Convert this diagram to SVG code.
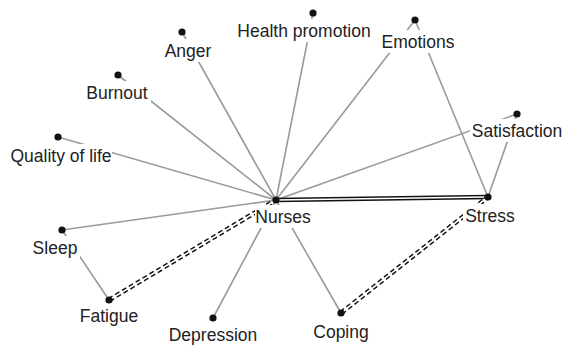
<svg xmlns="http://www.w3.org/2000/svg" width="579" height="346" viewBox="0 0 579 346">
<style>
.bg{fill:#fff}
.e{stroke:#9a9a9a;stroke-width:1.6;fill:none}
.dblo{stroke:#111;stroke-width:4.6;fill:none}
.dbli{stroke:#fff;stroke-width:1.6;fill:none}
.dsh{stroke:#111;stroke-width:4.6;fill:none;stroke-dasharray:5 3}
.lb{fill:#fff}
.t{font-family:"Liberation Sans",Arial,sans-serif;font-size:17.5px;fill:#222;text-anchor:middle}
.d{fill:#111}
</style>
<rect class="bg" x="0" y="0" width="579" height="346"/>
<g id="connectors">
<line class="e" x1="276" y1="200" x2="182" y2="32"/>
<line class="e" x1="276" y1="200" x2="313" y2="13"/>
<line class="e" x1="276" y1="200" x2="415" y2="20"/>
<line class="e" x1="415" y1="20" x2="488" y2="197"/>
<line class="e" x1="276" y1="200" x2="118" y2="75"/>
<line class="e" x1="276" y1="200" x2="58" y2="137"/>
<line class="e" x1="276" y1="200" x2="517" y2="114"/>
<line class="e" x1="517" y1="114" x2="488" y2="197"/>
<line class="e" x1="276" y1="200" x2="62" y2="230"/>
<line class="e" x1="62" y1="230" x2="109" y2="300"/>
<line class="e" x1="276" y1="200" x2="213" y2="318"/>
<line class="e" x1="276" y1="200" x2="341" y2="313"/>
<line class="dblo" x1="276" y1="200" x2="488" y2="197"/>
<line class="dbli" x1="276" y1="200" x2="486" y2="197"/>
<line class="dsh" x1="109" y1="300" x2="276" y2="200"/>
<line class="dbli" x1="109" y1="300" x2="276" y2="200"/>
<line class="dsh" x1="341" y1="313" x2="488" y2="197"/>
<line class="dbli" x1="341" y1="313" x2="488" y2="197"/>
</g>
<g id="nurses"><rect class="lb" x="255" y="205" width="57" height="23"/><text class="t" x="283" y="223">Nurses</text><circle class="d" cx="276" cy="200" r="3.6"/></g>
<g id="stress"><rect class="lb" x="463" y="204" width="55" height="23"/><text class="t" x="490" y="222">Stress</text><circle class="d" cx="488" cy="197" r="3.6"/></g>
<g id="anger"><rect class="lb" x="163" y="39" width="50" height="23"/><text class="t" x="188" y="57">Anger</text><circle class="d" cx="182" cy="32" r="3.6"/></g>
<g id="health-promotion"><rect class="lb" x="236" y="19" width="137" height="23"/><text class="t" x="304" y="37">Health promotion</text><circle class="d" cx="313" cy="13" r="3.6"/></g>
<g id="emotions"><rect class="lb" x="380" y="30" width="76" height="23"/><text class="t" x="418" y="48">Emotions</text><circle class="d" cx="415" cy="20" r="3.6"/></g>
<g id="burnout"><rect class="lb" x="84" y="81" width="67" height="23"/><text class="t" x="117" y="99">Burnout</text><circle class="d" cx="118" cy="75" r="3.6"/></g>
<g id="satisfaction"><rect class="lb" x="470" y="119" width="94" height="23"/><text class="t" x="517" y="137">Satisfaction</text><circle class="d" cx="517" cy="114" r="3.6"/></g>
<g id="quality-of-life"><rect class="lb" x="10" y="144" width="102" height="23"/><text class="t" x="61" y="162">Quality of life</text><circle class="d" cx="58" cy="137" r="3.6"/></g>
<g id="sleep"><rect class="lb" x="31" y="236" width="49" height="23"/><text class="t" x="55" y="254">Sleep</text><circle class="d" cx="62" cy="230" r="3.6"/></g>
<g id="fatigue"><rect class="lb" x="78" y="304" width="62" height="23"/><text class="t" x="109" y="322">Fatigue</text><circle class="d" cx="109" cy="300" r="3.6"/></g>
<g id="depression"><rect class="lb" x="167" y="323" width="92" height="23"/><text class="t" x="213" y="341">Depression</text><circle class="d" cx="213" cy="318" r="3.6"/></g>
<g id="coping"><rect class="lb" x="312" y="320" width="58" height="23"/><text class="t" x="341" y="338">Coping</text><circle class="d" cx="341" cy="313" r="3.6"/></g>
</svg>
